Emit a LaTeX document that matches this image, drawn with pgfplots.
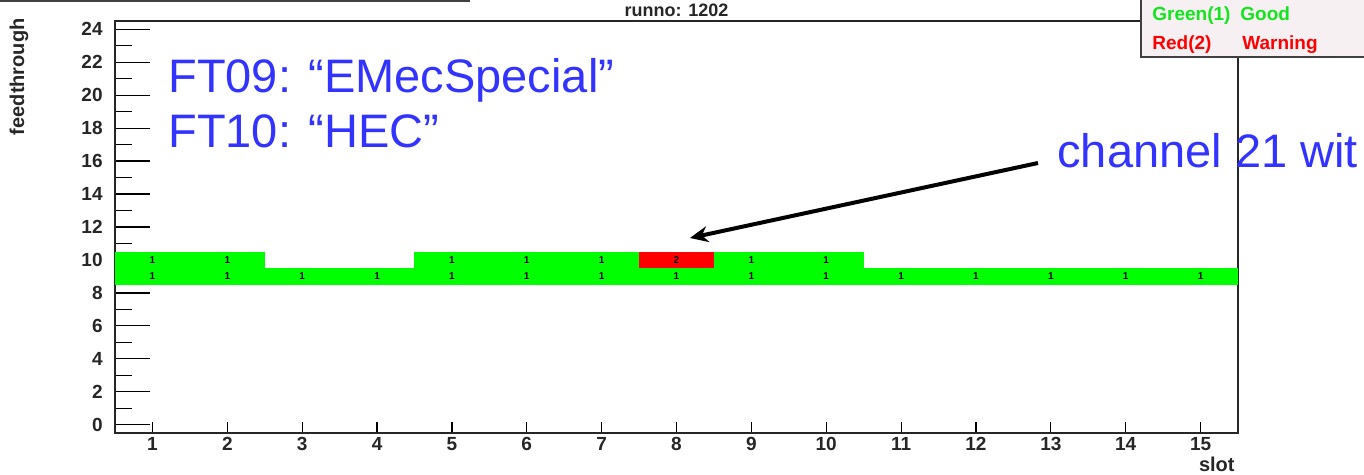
\documentclass[border=0pt]{standalone}
\usepackage{pgfplots}
\pgfplotsset{compat=1.18}
\usepackage{pgfplotstable}
\usetikzlibrary{arrows.meta}
\usepackage{fontspec}
\setmainfont{Liberation Sans}
\definecolor{rootgreen}{RGB}{0,255,0}
\definecolor{rootred}{RGB}{255,0,0}
\definecolor{blu}{RGB}{51,51,255}
\definecolor{legbg}{RGB}{246,240,243}
\definecolor{leggreen}{RGB}{20,230,30}
\pgfdeclareplotmark{cell}{%
  \pgfpathrectanglecorners{\pgfqpoint{-18.76pt}{-4.13pt}}{\pgfqpoint{18.76pt}{4.13pt}}%
  \pgfusepathqfill}
\pgfplotstableread{
x y v
1 9 1
2 9 1
3 9 1
4 9 1
5 9 1
6 9 1
7 9 1
8 9 1
9 9 1
10 9 1
11 9 1
12 9 1
13 9 1
14 9 1
15 9 1
1 10 1
2 10 1
5 10 1
6 10 1
7 10 1
9 10 1
10 10 1
}\greencells
\pgfplotstableread{
x y v
8 10 2
}\redcells
\begin{document}
\begin{tikzpicture}
\useasboundingbox (0,0) rectangle (682pt,237.5pt);
\clip (0,0) rectangle (682pt,237.5pt);
\begin{axis}[
  at={(57.5pt,21pt)}, anchor=south west,
  scale only axis, width=561.5pt, height=206pt,
  xmin=0.5, xmax=15.5, ymin=-0.5, ymax=24.5,
  xtick={1,...,15}, ytick={0,2,...,24}, minor ytick={1,3,...,23},
  tick pos=left, tick align=inside,
  axis on top,
  axis line style={line width=0.8pt, black!85},
  every tick/.style={black, line width=0.6pt},
  xtick style={/pgfplots/major tick length=5.5pt},
  ytick style={/pgfplots/major tick length=17.5pt, /pgfplots/minor tick length=8.5pt},
  /pgf/number format/assume math mode=true,
  ticklabel style={font=\fontsize{9.5}{10}\selectfont\bfseries, text=black!85},
  yticklabel style={anchor=east, inner sep=0pt, xshift=-6pt},
  xticklabel style={anchor=north, inner sep=0pt, yshift=-2pt},
  clip=false,
]
\addplot[only marks, mark=cell, color=rootgreen,
  nodes near coords, point meta=explicit symbolic,
  nodes near coords style={anchor=center, text=black, inner sep=0pt, font=\fontsize{5}{5}\selectfont\bfseries}]
  table[x=x, y=y, meta=v] {\greencells};
\addplot[only marks, mark=cell, color=rootred,
  nodes near coords, point meta=explicit symbolic,
  nodes near coords style={anchor=center, text=black, inner sep=0pt, font=\fontsize{5}{5}\selectfont\bfseries}]
  table[x=x, y=y, meta=v] {\redcells};
\end{axis}
% top cropped box edge
\draw[line width=1.2pt, black!75] (0pt,237pt) -- (235pt,237pt);
% title
\node[anchor=base, inner sep=0pt, font=\fontsize{9}{10}\selectfont\bfseries, text=black!85] at (338.25pt,229pt) {runno: 1202};
% axis labels
\node[rotate=90, anchor=base east, inner sep=0pt, font=\fontsize{10}{10}\selectfont\bfseries, text=black!85] at (12pt,228.5pt) {feedthrough};
\node[anchor=base east, inner sep=0pt, font=\fontsize{10}{10}\selectfont\bfseries, text=black!85] at (617.5pt,1.5pt) {slot};
% legend box
\draw[line width=0.8pt, black!75, fill=legbg] (570.5pt,209pt) rectangle (700pt,250pt);
\node[anchor=base west, inner sep=0pt, font=\fontsize{9.5}{10}\selectfont\bfseries, text=leggreen] at (576pt,227pt) {Green(1)};
\node[anchor=base west, inner sep=0pt, font=\fontsize{9.5}{10}\selectfont\bfseries, text=leggreen] at (620pt,227pt) {Good};
\node[anchor=base west, inner sep=0pt, font=\fontsize{9.5}{10}\selectfont\bfseries, text=rootred] at (576pt,212.5pt) {Red(2)};
\node[anchor=base west, inner sep=0pt, font=\fontsize{9.5}{10}\selectfont\bfseries, text=rootred] at (621pt,212.5pt) {Warning};
% annotations
\node[anchor=base west, inner sep=0pt, font=\fontsize{23.5}{26}\selectfont, text=blu] at (84pt,191pt) {FT09: “EMecSpecial”};
\node[anchor=base west, inner sep=0pt, font=\fontsize{23.5}{26}\selectfont, text=blu] at (84pt,163.5pt) {FT10: “HEC”};
\node[anchor=base west, inner sep=0pt, font=\fontsize{23.5}{26}\selectfont, text=blu] at (528.5pt,153.5pt) {channel 21 wit};
\draw[line width=2pt, -{Stealth[length=9pt,width=8pt]}] (519pt,156pt) -- (345pt,118.5pt);
\end{tikzpicture}
\end{document}
